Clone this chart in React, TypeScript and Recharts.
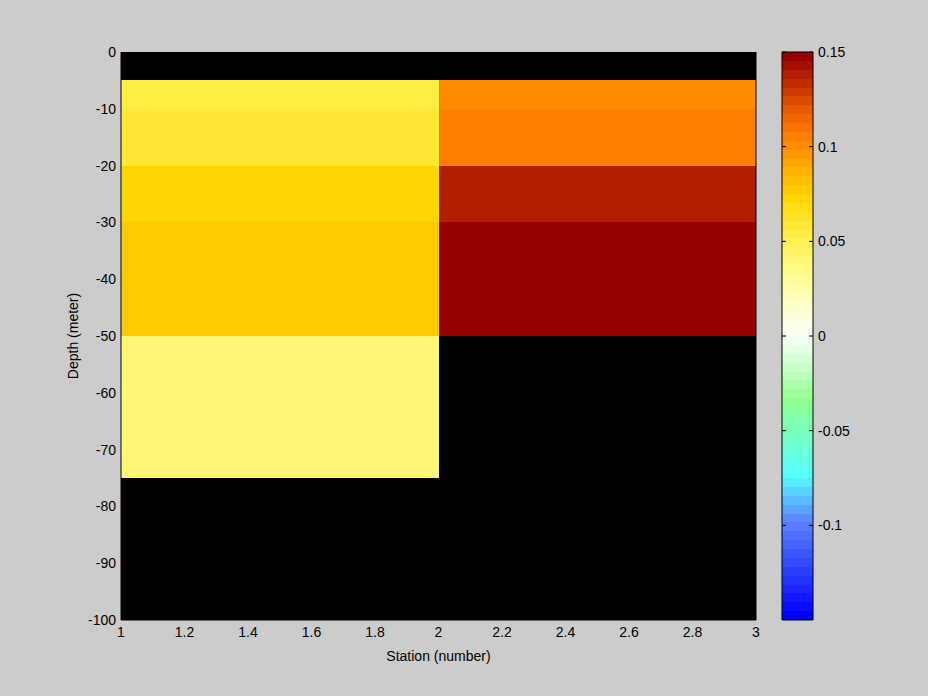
import React from 'react';
import { ComposedChart, XAxis, YAxis, ReferenceArea, ReferenceLine, CartesianGrid, Label } from 'recharts';

// station edges (pcolor style: cell i spans stationEdges[i]..stationEdges[i+1])
const stationEdges = [1, 2, 3];
// depth edges, top to bottom
const depthEdges = [0, -5, -10, -20, -30, -50, -75, -100];
// values per depth band for each station column (null = no data, shown black)
const station1Values = [null, 0.054, 0.058, 0.072, 0.077, 0.04, null];
const station2Values = [null, 0.1, 0.105, 0.138, 0.15, null, null];

const xTicks = [1, 1.2, 1.4, 1.6, 1.8, 2, 2.2, 2.4, 2.6, 2.8, 3];
const yTicks = [0, -10, -20, -30, -40, -50, -60, -70, -80, -90, -100];
const colorbarTicks = [0.15, 0.1, 0.05, 0, -0.05, -0.1];

const cmin = -0.15;
const cmax = 0.15;
const levels = 64;

// colormap stops
const cmapStops: [number, number[]][] = [
  [-0.15, [0, 0, 255]],
  [-0.1, [92, 128, 255]],
  [-0.075, [85, 255, 255]],
  [-0.035, [144, 255, 144]],
  [0, [250, 255, 250]],
  [0.025, [255, 255, 170]],
  [0.05, [255, 242, 85]],
  [0.075, [255, 213, 0]],
  [0.1024, [255, 140, 0]],
  [0.1071, [255, 128, 0]],
  [0.12, [235, 95, 0]],
  [0.15, [150, 0, 0]],
];

function interp(v: number) {
  for (let i = 0; i < cmapStops.length - 1; i++) {
    const [a, ca] = cmapStops[i];
    const [b, cb] = cmapStops[i + 1];
    if (v >= a && v <= b) {
      const t = (v - a) / (b - a);
      return ca.map((c, k) => Math.round(c + (cb[k] - c) * t));
    }
  }
  return v < cmin ? cmapStops[0][1] : cmapStops[cmapStops.length - 1][1];
}

const cmap = Array.from({ length: levels }, (_, i) => {
  const rgb = interp(cmin + (i * (cmax - cmin)) / (levels - 1));
  return `rgb(${rgb[0]},${rgb[1]},${rgb[2]})`;
});

function colorFor(v: number) {
  let idx = Math.floor(((v - cmin) / (cmax - cmin)) * levels);
  idx = Math.max(0, Math.min(levels - 1, idx));
  return cmap[idx];
}

const columns = [station1Values, station2Values];
const cells: { x1: number; x2: number; y1: number; y2: number; v: number }[] = [];
columns.forEach((col, c) => {
  col.forEach((v, r) => {
    if (v === null) return;
    cells.push({ x1: stationEdges[c], x2: stationEdges[c + 1], y1: depthEdges[r + 1], y2: depthEdges[r], v });
  });
});

const chartData = stationEdges.map((s) => ({ station: s }));
const font = { fontFamily: '"Liberation Sans", Arial, sans-serif', fontSize: 14, fill: '#000' };

const ColorbarTick = (props: any) => {
  const { x, y, payload } = props;
  const ax = x - 5;
  return (
    <g>
      <line x1={ax} y1={y} x2={ax - 4} y2={y} stroke="#000" />
      <line x1={ax - 31} y1={y} x2={ax - 27} y2={y} stroke="#000" />
      <text x={x} y={y} dy={5} textAnchor="start" {...font}>
        {String(payload.value)}
      </text>
    </g>
  );
};

export default function App() {
  return (
    <div style={{ position: 'absolute', left: 0, top: 0, width: 928, height: 696, background: '#cccccc' }}>
      <div style={{ position: 'absolute', left: 0, top: 0 }}>
        <ComposedChart width={928} height={696} data={chartData} margin={{ top: 52, right: 172, bottom: 46, left: 61 }}>
          <CartesianGrid fill="#000000" stroke="none" horizontal={false} vertical={false} />
          <XAxis
            type="number"
            dataKey="station"
            domain={[1, 3]}
            ticks={xTicks}
            allowDataOverflow
            height={30}
            tickLine={false}
            tickSize={0}
            tickMargin={7}
            axisLine={{ stroke: '#000' }}
            tick={font}
            interval={0}
          >
            <Label value="Station (number)" position="bottom" offset={1} style={font} />
          </XAxis>
          <YAxis
            type="number"
            domain={[-100, 0]}
            ticks={yTicks}
            allowDataOverflow
            width={60}
            tickLine={false}
            tickSize={0}
            tickMargin={5}
            axisLine={{ stroke: '#000' }}
            tick={font}
            interval={0}
          >
            <Label value="Depth (meter)" angle={-90} position="center" dx={-18} style={font} />
          </YAxis>
          {cells.map((c, i) => (
            <ReferenceArea
              key={i}
              x1={c.x1}
              x2={c.x2}
              y1={c.y1}
              y2={c.y2}
              fill={colorFor(c.v)}
              fillOpacity={1}
              stroke="none"
              shapeRendering="crispEdges"
              ifOverflow="visible"
            />
          ))}
          <ReferenceLine x={3} stroke="#000" ifOverflow="visible" />
        </ComposedChart>
      </div>
      <div style={{ position: 'absolute', left: 0, top: 0 }}>
        <ComposedChart width={928} height={696} data={chartData} margin={{ top: 52, right: 55, bottom: 76, left: 782 }}>
          <XAxis type="number" dataKey="station" domain={[1, 3]} hide allowDataOverflow />
          <YAxis
            type="number"
            orientation="right"
            domain={[cmin, cmax]}
            ticks={colorbarTicks}
            allowDataOverflow
            width={60}
            tickLine={false}
            tickSize={0}
            tickMargin={5}
            axisLine={false}
            tick={<ColorbarTick />}
            interval={0}
          />
          {cmap.map((col, i) => (
            <ReferenceArea
              key={i}
              x1={1}
              x2={3}
              y1={cmin + (i * (cmax - cmin)) / levels}
              y2={cmin + ((i + 1) * (cmax - cmin)) / levels}
              fill={col}
              fillOpacity={1}
              stroke="none"
              shapeRendering="crispEdges"
              ifOverflow="visible"
            />
          ))}
          <ReferenceArea x1={1} x2={3} y1={cmin} y2={cmax} fill="none" stroke="#000" ifOverflow="visible" />
        </ComposedChart>
      </div>
    </div>
  );
}
